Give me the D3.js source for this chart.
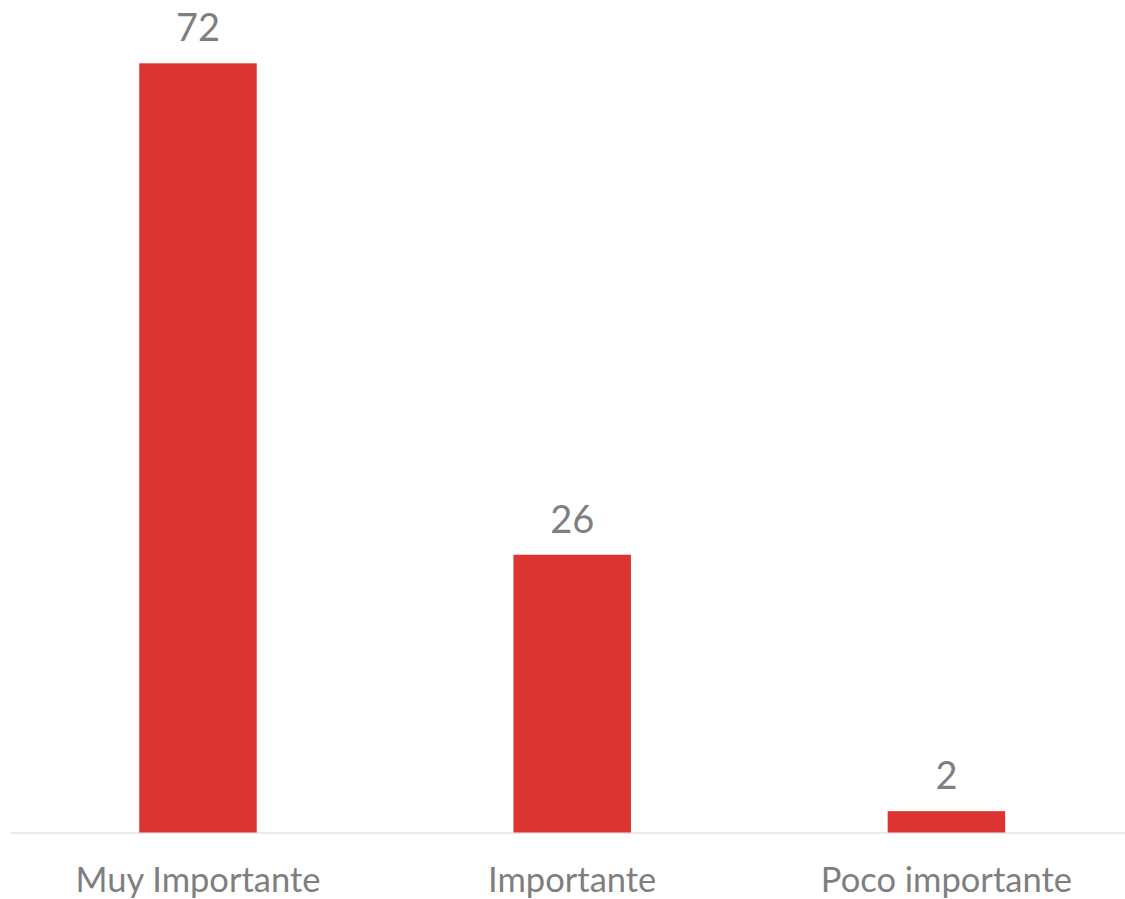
<!DOCTYPE html>
<html><head><meta charset="utf-8">
<script src="https://cdn.jsdelivr.net/npm/d3@7"></script>
<style>html,body{margin:0;padding:0;background:#fff;}svg{display:block;}</style>
</head><body><svg id="c" width="1125" height="899"></svg>
<script>
const categories = ["Muy Importante", "Importante", "Poco importante"];
const values = [72, 26, 2];

const svg = d3.select("#c");
const left = 10.9, right = 1133.5, baseY = 832.5, topY = 63.3;
const x = d3.scaleBand().domain(categories).range([left, right]).paddingInner(0.686).paddingOuter(0.343);
const y = d3.scaleLinear().domain([0, 72]).range([baseY, topY]);
const font = "Lato, 'Open Sans', sans-serif";
const textColor = "#7f7f7f";

svg.append("line").attr("x1", left).attr("x2", right).attr("y1", baseY + 0.5).attr("y2", baseY + 0.5)
  .attr("stroke", "#e3e3e3").attr("stroke-width", 1.5);

svg.selectAll("rect.bar").data(values).join("rect").attr("class", "bar")
  .attr("x", (d, i) => x(categories[i]))
  .attr("width", x.bandwidth())
  .attr("y", d => y(d))
  .attr("height", d => baseY - y(d))
  .attr("fill", "#dc3531");

svg.selectAll("text.val").data(values).join("text").attr("class", "val")
  .attr("x", (d, i) => x(categories[i]) + x.bandwidth() / 2)
  .attr("y", d => y(d) - 22)
  .attr("text-anchor", "middle")
  .attr("font-family", font).attr("font-size", 38)
  .attr("fill", textColor)
  .text(d => d);

const xAxis = d3.axisBottom(x).tickSize(0).tickPadding(0);
const g = svg.append("g").attr("transform", `translate(0,${baseY})`).call(xAxis);
g.select(".domain").remove();
g.selectAll("text").attr("font-family", font).attr("font-size", 34.5).attr("fill", textColor)
  .attr("dy", null).attr("y", 59.5);
</script></body></html>
